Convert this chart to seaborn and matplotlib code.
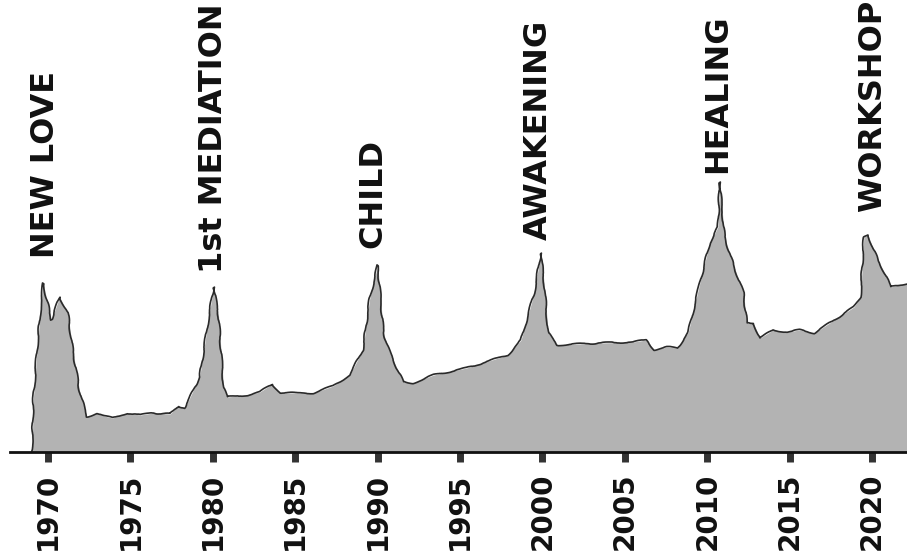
import matplotlib
matplotlib.use("Agg")
import matplotlib.pyplot as plt
import seaborn as sns
import pandas as pd
import numpy as np

# ---- data ----
years = [1969.0, 1969.03, 1969.1, 1969.33, 1969.5, 1969.7, 1970.2, 1970.7, 1971.2, 1971.5,
         1971.9, 1972.35, 1972.95, 1973.4, 1973.9, 1974.8, 1975.6, 1976.4, 1977.4, 1977.9,
         1978.3, 1979.2, 1979.75, 1980.05, 1980.35, 1980.65, 1980.85, 1982.1, 1982.85, 1983.6,
         1984.1, 1985.3, 1986.1, 1987.3, 1988.3, 1989.1, 1989.5, 1990.0, 1990.15, 1990.35,
         1990.75, 1991.55, 1992.15, 1993.4, 1995.4, 1997.9, 1998.7, 1999.5, 1999.9, 2000.1,
         2000.35, 2000.9, 2003.5, 2005.5, 2006.3, 2006.8, 2007.55, 2008.2, 2008.85, 2009.55,
         2010.15, 2010.65, 2010.75, 2011.05, 2011.55, 2012.2, 2012.4, 2012.8, 2013.2, 2014.0,
         2014.85, 2015.6, 2016.5, 2017.7, 2018.9, 2019.3, 2019.5, 2019.75, 2020.35, 2020.9,
         2021.1, 2022.2]
intensity = [0, 2, 52, 102, 135, 169, 132, 155, 139, 102,
             62, 35, 39, 36, 34, 39, 37, 39, 38, 46,
             44, 75, 135, 165, 135, 65, 55, 57, 60, 68,
             59, 59, 59, 66, 77, 102, 152, 187, 159, 119,
             99, 70, 69, 77, 84, 97, 112, 159, 199, 169,
             119, 107, 109, 110, 112, 102, 105, 104, 120, 169,
             209, 225, 270, 215, 189, 159, 129, 129, 114, 122,
             120, 122, 119, 132, 145, 155, 215, 217, 192, 175,
             165, 169]

event_labels = ["NEW LOVE", "1st MEDIATION", "CHILD", "AWAKENING", "HEALING", "WORKSHOP"]
event_years = [1969.82, 1980.01, 1989.72, 1999.73, 2010.6, 2020.0]
event_label_y = [194, 179, 204, 212, 279, 240]

tick_years = [1970, 1975, 1980, 1985, 1990, 1995, 2000, 2005, 2010, 2015, 2020]

df = pd.DataFrame({"year": years, "intensity": intensity})

# ---- figure ----
sns.set_style("white")
plt.rcParams["font.family"] = ["DejaVu Sans"]

fig = plt.figure(figsize=(9.07, 5.59), dpi=100)
ax = fig.add_axes([10 / 907, 107 / 559, 897 / 907, 452 / 559])

ax.fill_between(df["year"], 0, df["intensity"], color="#b3b3b3", linewidth=0, zorder=1)
sns.lineplot(data=df, x="year", y="intensity", ax=ax, color="#2a2a2a", linewidth=1.2,
             sort=True, zorder=2)
for ln in ax.lines:
    ln.set_sketch_params(scale=0.8, length=40, randomness=3)

ax.set_xlim(1967.69, 2022.12)
ax.set_ylim(0, 452)

for lab, yr, yy in zip(event_labels, event_years, event_label_y):
    ax.text(yr, yy, lab, rotation=90, ha="center", va="bottom",
            fontsize=23, fontweight="bold", color="#111111")

ax.set_xticks(tick_years)
ax.set_xticklabels([str(t) for t in tick_years], rotation=90, fontsize=20,
                   fontweight="bold", color="#111111")
ax.tick_params(axis="x", direction="out", length=7, width=5, color="#333333", pad=8,
               bottom=True)
ax.set_yticks([])
ax.set_xlabel("")
ax.set_ylabel("")

for side in ["top", "right", "left"]:
    ax.spines[side].set_visible(False)
ax.spines["bottom"].set_linewidth(2)
ax.spines["bottom"].set_color("#111111")

fig.savefig("out.png", dpi=100)
